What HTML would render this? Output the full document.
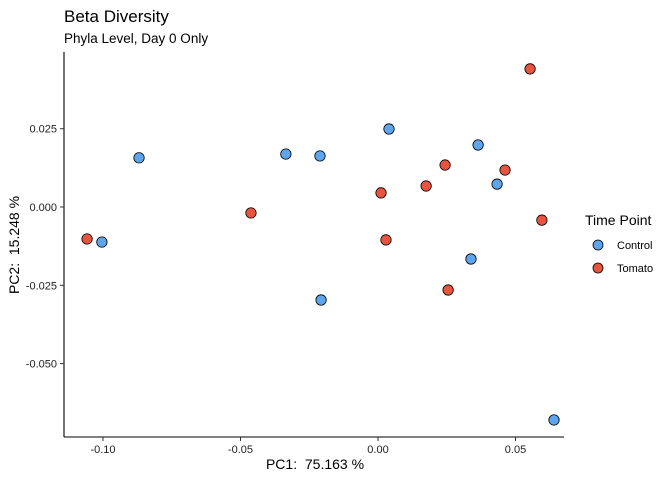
<!DOCTYPE html>
<html><head><meta charset="utf-8"><style>
body{margin:0;background:#fff;font-family:"Liberation Sans",sans-serif;}
svg text{font-family:"Liberation Sans",sans-serif;white-space:pre;}
</style></head><body>
<svg width="672" height="480">
<text x="64" y="22" font-size="17" fill="#000">Beta Diversity</text>
<text x="64" y="43" font-size="13.5" fill="#000">Phyla Level, Day 0 Only</text>
<g id="axes"></g>
<g id="points"></g>
<text x="315" y="469" font-size="14" text-anchor="middle">PC1:&#160; 75.163 %</text>
<text transform="translate(19,245) rotate(-90)" font-size="14" text-anchor="middle">PC2:&#160; 15.248 %</text>
<g>
<text x="585" y="225" font-size="14">Time Point</text>
<g><circle cx="598" cy="245" r="5" fill="#5DA5EC" stroke="#000" stroke-width="0.8"/><text x="617" y="249" font-size="11">Control</text></g>
<g><circle cx="598" cy="268" r="5" fill="#E8553F" stroke="#000" stroke-width="0.8"/><text x="617" y="272" font-size="11">Tomato</text></g>
</g>
</svg>
<script>
const xTicks=[-0.10,-0.05,0.00,0.05];
const xTickLabels=["-0.10","-0.05","0.00","0.05"];
const yTicks=[0.025,0.000,-0.025,-0.050];
const yTickLabels=["0.025","0.000","-0.025","-0.050"];
const controlX=[-0.0869,-0.1004,-0.0335,-0.0211,0.0040,0.0364,0.0433,0.0338,-0.0207,0.0640];
const controlY=[0.0157,-0.0112,0.0169,0.0163,0.0249,0.0198,0.0073,-0.0166,-0.0297,-0.0680];
const tomatoX=[-0.1058,-0.0462,0.0553,0.0244,0.0462,0.0175,0.0011,0.0029,0.0596,0.0255];
const tomatoY=[-0.0102,-0.0019,0.0441,0.0134,0.0118,0.0067,0.0045,-0.0105,-0.0042,-0.0265];
const NS="http://www.w3.org/2000/svg";
const sx=v=>378+v*2750, sy=v=>207-v*3132;
const axes=document.getElementById('axes');
function mk(t,a,p){const e=document.createElementNS(NS,t);for(const k in a)e.setAttribute(k,a[k]);p.appendChild(e);return e;}
let l=mk('line',{x1:64,y1:437,x2:564,y2:437,stroke:'#000','stroke-width':1.1},axes);


l=mk('line',{x1:64,y1:52,x2:64,y2:437,stroke:'#000','stroke-width':1.1},axes);


xTicks.forEach((v,i)=>{const x=sx(v);mk('line',{x1:x,y1:437,x2:x,y2:441,stroke:'#333'},axes);
const t=mk('text',{x:x,y:453,'font-size':11,'text-anchor':'middle',fill:'#222'},axes);t.textContent=xTickLabels[i];

});
yTicks.forEach((v,i)=>{const y=sy(v);mk('line',{x1:60,y1:y,x2:64,y2:y,stroke:'#333'},axes);
const t=mk('text',{x:57,y:y+4,'font-size':11,'text-anchor':'end',fill:'#222'},axes);t.textContent=yTickLabels[i];

});
const pts=document.getElementById('points');
function draw(xs,ys,fill,name){xs.forEach((v,i)=>{const c=mk('circle',{cx:sx(v),cy:sy(ys[i]),r:5.2,fill:fill,stroke:'#000','stroke-width':0.8},pts);

});}
draw(controlX,controlY,'#5DA5EC','point-control');
draw(tomatoX,tomatoY,'#E8553F','point-tomato');
</script>
</body></html>
